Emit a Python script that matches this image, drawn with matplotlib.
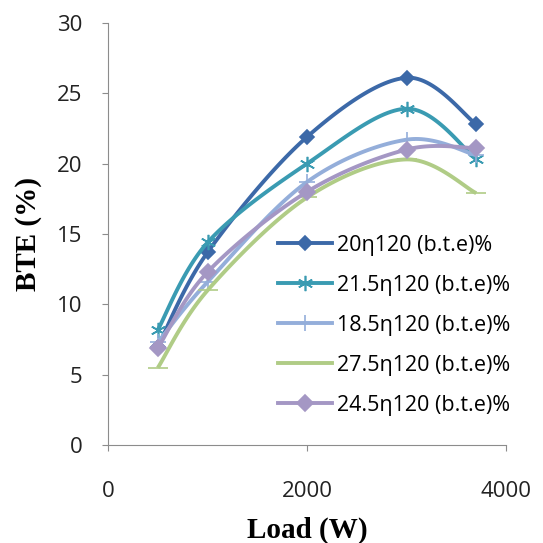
import numpy as np
import matplotlib.pyplot as plt

load = [500, 1000, 2000, 3000, 3700]

bte_20 = [7.0, 13.7, 21.9, 26.1, 22.8]
bte_215 = [8.2, 14.4, 20.0, 23.9, 20.3]
bte_185 = [7.3, 11.6, 18.7, 21.7, 20.6]
bte_275 = [5.5, 11.0, 17.6, 20.3, 17.9]
bte_245 = [6.9, 12.3, 18.0, 21.0, 21.1]

labels = ["20η120 (b.t.e)%", "21.5η120 (b.t.e)%", "18.5η120 (b.t.e)%",
          "27.5η120 (b.t.e)%", "24.5η120 (b.t.e)%"]
colors = ["#3C69A8", "#3A9BB2", "#94AEDA", "#B0CC86", "#A497C4"]
markers = ["D", (6, 2, 0), "+", "_", "D"]
msizes = [7, 11, 12, 14, 8]


def smooth(x, y, n=30):
    # excel style smoothed line: bezier through points (catmull-rom tangents)
    x = np.asarray(x, float)
    y = np.asarray(y, float)
    px = np.concatenate([[x[0]], x, [x[-1]]])
    py = np.concatenate([[y[0]], y, [y[-1]]])
    xs, ys = [], []
    t = np.linspace(0, 1, n)
    for i in range(1, len(x)):
        p0 = np.array([px[i], py[i]])
        p3 = np.array([px[i + 1], py[i + 1]])
        c1 = p0 + (p3 - np.array([px[i - 1], py[i - 1]])) / 6
        c2 = p3 - (np.array([px[i + 2], py[i + 2]]) - p0) / 6
        b = ((1 - t)**3)[:, None] * p0 + (3 * (1 - t)**2 * t)[:, None] * c1 \
            + (3 * (1 - t) * t**2)[:, None] * c2 + (t**3)[:, None] * p3
        xs.append(b[:, 0])
        ys.append(b[:, 1])
    return np.concatenate(xs), np.concatenate(ys)


fig = plt.figure(figsize=(5.43, 5.43), dpi=100)
ax = fig.add_axes([0.199, 0.180, 0.733, 0.778])

series = [bte_20, bte_215, bte_185, bte_275, bte_245]
for yv, lab, c, m, ms in zip(series, labels, colors, markers, msizes):
    sx, sy = smooth(load, yv)
    ax.plot(sx, sy, color=c, lw=2.8, solid_capstyle="butt")
    ax.plot(load, yv, ls="none", marker=m, ms=ms, color=c, mew=1.2)
    ax.plot([], [], color=c, lw=2.8, marker=m, ms=ms, mew=1.2, label=lab)

ax.set_xlim(0, 4000)
ax.set_ylim(0, 30)
ax.set_xticks([0, 2000, 4000])
ax.set_yticks(range(0, 31, 5))
for s in ["top", "right"]:
    ax.spines[s].set_visible(False)
for s in ["left", "bottom"]:
    ax.spines[s].set_color("#8C8C8C")
ax.tick_params(colors="#8C8C8C", labelcolor="#222222", labelsize=16, length=4, direction="out")
ax.tick_params(axis="x", pad=22)
ax.tick_params(axis="y", pad=14.5)
for lbl in ax.get_xticklabels() + ax.get_yticklabels():
    lbl.set_fontfamily("Open Sans")

ax.set_xlabel("Load (W)", fontfamily="Liberation Serif", fontweight="bold", fontsize=21)
ax.set_ylabel("BTE (%)", fontfamily="Liberation Serif", fontweight="bold", fontsize=21)
ax.xaxis.set_label_coords(0.5, -0.168)
ax.yaxis.set_label_coords(-0.166, 0.5)

ax.legend(loc="upper left", bbox_to_anchor=(278 / 543, 1 - 235 / 543), bbox_transform=fig.transFigure,
          frameon=False, borderaxespad=0, borderpad=0,
          prop={"family": "Open Sans", "size": 15.5}, handlelength=2.5,
          labelspacing=0.88, handletextpad=0.25)

fig.savefig("out.png", dpi=100)
